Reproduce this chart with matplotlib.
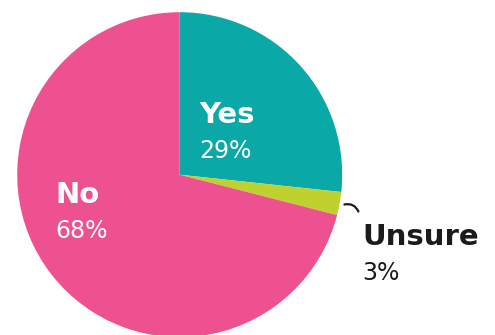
import numpy as np
import matplotlib
matplotlib.use("Agg")
import matplotlib.pyplot as plt

# slice sizes as drawn, and the labels printed on the chart
answers = ["Yes", "Unsure", "No"]
sizes = [26.7, 2.3, 71.0]
pct_labels = ["29%", "3%", "68%"]
colors = ["#0aa8a6", "#bed12f", "#ee5190"]

W, H = 495, 335
fig = plt.figure(figsize=(W / 100, H / 100), dpi=100)
ax = fig.add_axes([0, 0, 1, 1])

cx, cy, r = 179.7, H - 174.7, 162.5
ax.pie(sizes, colors=colors, startangle=90, counterclock=False,
       center=(cx, cy), radius=r, frame=True,
       wedgeprops=dict(linewidth=0))
ax.set_xlim(0, W)
ax.set_ylim(0, H)
ax.set_aspect("equal")
ax.axis("off")

font = "DejaVu Sans"
# label positions (left x, baseline y) in pixels from top-left
label_pos = {"Yes": (199, 123), "No": (55, 203), "Unsure": (362, 245)}
pct_gap = 35
for name, pct in zip(answers, pct_labels):
    x, y = label_pos[name]
    col = "#1b1b1b" if name == "Unsure" else "white"
    ax.text(x, H - y, name, fontsize=21, fontweight="bold", color=col,
            family=font, ha="left", va="baseline")
    ax.text(x, H - y - pct_gap, pct, fontsize=17, color=col,
            family=font, ha="left", va="baseline")

# leader line for the thin "Unsure" slice
start = 90 - 360 * (sizes[0] + sizes[1] / 2) / 100
a = np.deg2rad(start)
p0 = (cx + r * 1.03 * np.cos(a), cy + r * 1.03 * np.sin(a))
p1 = (p0[0] + 14, p0[1] - 7)
ax.annotate("", xy=p1, xytext=p0,
            arrowprops=dict(arrowstyle="-", color="#1b1b1b", lw=1.6,
                            shrinkA=0, shrinkB=0,
                            connectionstyle="arc3,rad=-0.4"))

fig.savefig("out.png", dpi=100)
